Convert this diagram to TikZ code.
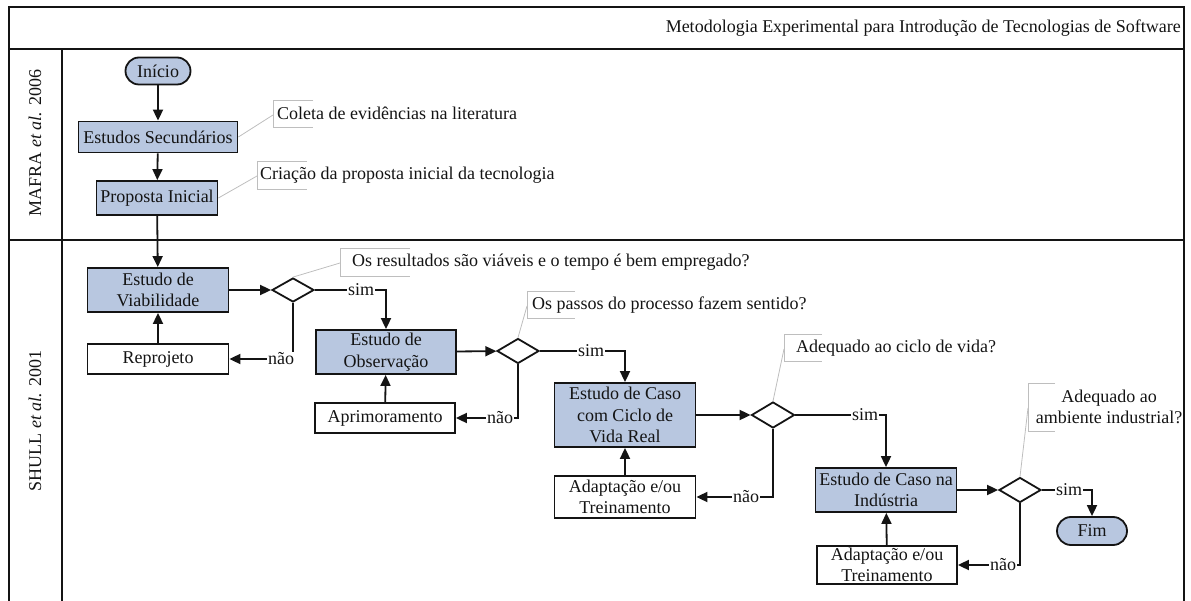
\documentclass[tikz,border=0pt]{standalone}
\usepackage{fontspec}
\setmainfont{Liberation Serif}
\usetikzlibrary{arrows.meta,shapes.geometric,calc}
\definecolor{boxfill}{RGB}{184,199,224}
\definecolor{notegray}{RGB}{190,190,190}
\definecolor{ink}{RGB}{20,20,20}
\begin{document}
\begin{tikzpicture}[x=1pt,y=-1pt,
  every node/.style={font=\fontsize{18}{21.5}\selectfont, text=ink},
  lane/.style={draw=ink, line width=2pt},
  proc/.style={draw=ink, line width=1.8pt, fill=boxfill, align=center, inner sep=0pt},
  task/.style={draw=ink, line width=1.8pt, fill=white, align=center, inner sep=0pt},
  term/.style={proc, rounded corners=13.5pt},
  decision/.style={diamond, draw=ink, line width=1.8pt, fill=white, inner sep=0pt},
  flow/.style={draw=ink, line width=1.8pt, -{Triangle[length=11pt,width=10pt]}},
  tag/.style={fill=white, inner sep=1pt},
  note/.style={draw=notegray, line width=0.8pt},
  notetext/.style={anchor=west, inner sep=0pt, align=center}]
\useasboundingbox (0,0) rectangle (1191,601);

% pool frame and swimlanes
\draw[lane] (8.5,601) -- (8.5,7) -- (1184,7) -- (1184,601);
\draw[lane] (8.5,49) -- (1184,49);
\draw[lane] (62,49) -- (62,601);
\draw[lane] (8.5,240) -- (1184,240);

\node[anchor=east, inner sep=0pt] (title) at (1181,28) {Metodologia Experimental para Introdução de Tecnologias de Software};
\node[rotate=90] (mafra) at (35,143) {MAFRA \textit{et al.} 2006};
\node[rotate=90] (shull) at (35,421) {SHULL \textit{et al.} 2001};

% process steps
\node[term, minimum width=65, minimum height=27] (inicio) at (158,71) {Início};
\node[proc, minimum width=159, minimum height=31] (sec) at (158,137) {Estudos Secundários};
\node[proc, minimum width=121, minimum height=34] (prop) at (157,198) {Proposta Inicial};
\node[proc, minimum width=141, minimum height=44] (viab) at (158,290) {Estudo de\\Viabilidade};
\node[task, minimum width=141, minimum height=30] (reproj) at (158,359) {Reprojeto};
\node[decision, minimum width=42, minimum height=24] (d1) at (293,290) {};
\node[proc, minimum width=140, minimum height=44] (obs) at (386,352) {Estudo de\\Observação};
\node[task, minimum width=140, minimum height=30] (aprim) at (385,418) {Aprimoramento};
\node[decision, minimum width=42, minimum height=25] (d2) at (518,351) {};
\node[proc, minimum width=141, minimum height=64] (caso) at (625,415) {Estudo de Caso\\com Ciclo de\\Vida Real};
\node[task, minimum width=141, minimum height=42] (adapt1) at (625,497) {Adaptação e/ou\\Treinamento};
\node[decision, minimum width=43, minimum height=26] (d3) at (773,415) {};
\node[proc, minimum width=141, minimum height=44] (ind) at (886,490) {Estudo de Caso na\\Indústria};
\node[task, minimum width=140, minimum height=38] (adapt2) at (887,565) {Adaptação e/ou\\Treinamento};
\node[decision, minimum width=42, minimum height=25] (d4) at (1020,490) {};
\node[term, rounded corners=14pt, minimum width=70, minimum height=28] (fim) at (1092,531) {Fim};

% flow connectors
\draw[flow] (inicio) -- (sec);
\draw[flow] (sec) -- (prop);
\draw[flow] (prop) -- (viab);
\draw[flow] (viab) -- (d1);
\draw[flow] (d1.east) -| (obs.north);
\draw[flow] (d1.south) |- (reproj.east);
\draw[flow] (reproj) -- (viab);
\draw[flow] (obs) -- (d2);
\draw[flow] (d2.east) -| (caso.north);
\draw[flow] (d2.south) |- (aprim.east);
\draw[flow] (aprim) -- (obs);
\draw[flow] (caso) -- (d3);
\draw[flow] (d3.east) -| (ind.north);
\draw[flow] (d3.south) |- (adapt1.east);
\draw[flow] (adapt1) -- (caso);
\draw[flow] (ind) -- (d4);
\draw[flow] (d4.east) -| (fim.north);
\draw[flow] (d4.south) |- (adapt2.east);
\draw[flow] (adapt2) -- (ind);

% branch labels
\node[tag] (s1) at (361,290) {sim};
\node[tag] (n1) at (281,359) {não};
\node[tag] (s2) at (591,351) {sim};
\node[tag] (n2) at (500,418) {não};
\node[tag] (s3) at (865,415) {sim};
\node[tag] (n3) at (746,497) {não};
\node[tag] (s4) at (1069,490) {sim};
\node[tag] (n4) at (1003,565) {não};

% annotations
\draw[note] (313,100) -- (273,100) -- (273,127) -- (313,127);
\coordinate (a1) at (273,115);
\node[notetext] (t1) at (277,113) {Coleta de evidências na literatura};
\draw[note] (sec.east) -- (a1);

\draw[note] (307,161) -- (257,161) -- (257,189) -- (307,189);
\coordinate (a2) at (257,176);
\node[notetext] (t2) at (260,175) {Criação da proposta inicial da tecnologia};
\draw[note] (prop.east) -- (a2);

\draw[note] (410,248) -- (340,248) -- (340,276) -- (410,276);
\coordinate (a3) at (340,263);
\node[notetext] (t3) at (352,262) {Os resultados são viáveis e o tempo é bem empregado?};
\draw[note] (d1.north) -- (a3);

\draw[note] (575,291) -- (527,291) -- (527,318) -- (575,318);
\coordinate (a4) at (527,306);
\node[notetext] (t4) at (532,305) {Os passos do processo fazem sentido?};
\draw[note] (d2.north) -- (a4);

\draw[note] (822,334) -- (784,334) -- (784,361) -- (822,361);
\coordinate (a5) at (784,349);
\node[notetext] (t5) at (796,348) {Adequado ao ciclo de vida?};
\draw[note] (d3.north) -- (a5);

\draw[note] (1055,383) -- (1028,383) -- (1028,431) -- (1055,431);
\coordinate (a6) at (1028,408);
\node[inner sep=0pt, align=center] (t6) at (1109,407) {Adequado ao\\ambiente industrial?};
\draw[note] (d4.north) -- (a6);
\end{tikzpicture}
\end{document}
